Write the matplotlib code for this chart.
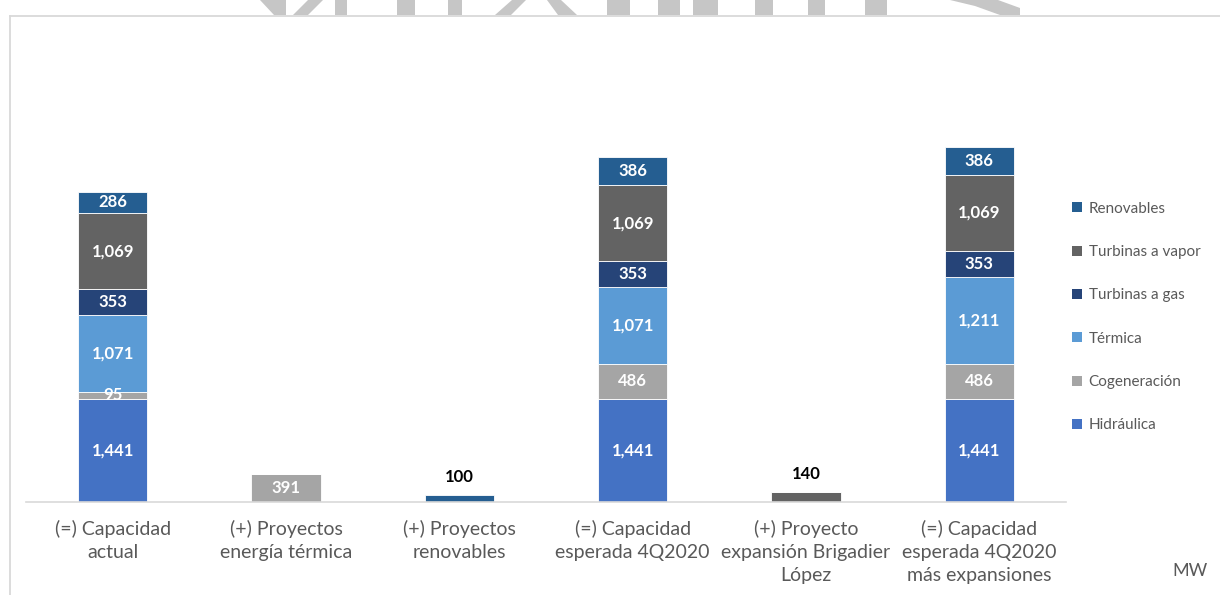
import numpy as np
from matplotlib import pyplot as plt
from matplotlib.patches import Polygon, Patch
from matplotlib.lines import Line2D

W, H = 1220, 595

categories = ["(=) Capacidad\nactual",
              "(+) Proyectos\nenergía térmica",
              "(+) Proyectos\nrenovables",
              "(=) Capacidad\nesperada 4Q2020",
              "(+) Proyecto\nexpansión Brigadier\nLópez",
              "(=) Capacidad\nesperada 4Q2020\nmás expansiones"]

# stacked from the bottom up, MW
hidraulica = [1441, 0, 0, 1441, 0, 1441]
cogeneracion = [95, 391, 0, 486, 0, 486]
termica = [1071, 0, 0, 1071, 0, 1211]
turbinas_gas = [353, 0, 0, 353, 0, 353]
turbinas_vapor = [1069, 0, 0, 1069, 140, 1069]
renovables = [286, 0, 100, 386, 0, 386]

series_names = ["Hidráulica", "Cogeneración", "Térmica", "Turbinas a gas",
                "Turbinas a vapor", "Renovables"]
series_colors = ["#4472c4", "#a5a5a5", "#5b9bd5", "#264478", "#636363", "#255e91"]

# single-bar steps get their label on top in black
outside_labels = [2, 4]

TEXT_GREY = "#595959"
FONT = "Lato"


def px(x, y):
    return x / W, 1 - y / H


def draw_background(fig):
    # tops of the big grey letters peeking out above the chart box
    shapes = [
        [(260, 0), (286, 0), (286, 15), (274, 15)],
        [(308, 0), (323, 0), (308, 15), (293, 15)],
        [(335, 0), (347, 0), (347, 15), (335, 15)],
        [(397, 0), (415, 0), (415, 15), (397, 15)],
        [(448, 0), (462, 0), (462, 15), (448, 15)],
        [(512, 0), (526, 0), (511, 15), (495, 15)],
        [(547, 0), (561, 0), (577, 15), (558, 15)],
        [(607, 0), (630, 0), (630, 15), (607, 15)],
        [(658, 0), (680, 0), (680, 15), (658, 15)],
        [(693, 0), (718, 0), (718, 15), (693, 15)],
        [(755, 0), (773, 0), (773, 15), (755, 15)],
        [(808, 0), (825, 0), (825, 15), (808, 15)],
        [(865, 0), (887, 0), (887, 15), (865, 15)],
        [(950, 0), (998, 0), (1020, 8), (1020, 15), (1000, 15), (975, 6)],
    ]
    for s in shapes:
        fig.patches.append(Polygon([px(x, y) for x, y in s], closed=True,
                                   transform=fig.transFigure, facecolor="#c6c6c6",
                                   edgecolor="none", zorder=0))
    frame = dict(transform=fig.transFigure, color="#d9d9d9", lw=1.3, zorder=1)
    x0, y0 = px(10, 15.5)
    fig.lines.append(Line2D([x0, 1], [y0, y0], **frame))
    fig.lines.append(Line2D([x0, x0], [0, y0], **frame))


def plot_capacity():
    fig = plt.figure(figsize=(W / 100, H / 100), dpi=100)
    draw_background(fig)

    left, bottom = px(26, 502)
    right, top = px(1066, 40)
    ax = fig.add_axes([left, bottom, right - left, top - bottom])
    ax.patch.set_alpha(0)

    data = [hidraulica, cogeneracion, termica, turbinas_gas, turbinas_vapor, renovables]
    x = np.arange(len(categories))
    base = np.zeros(len(categories))
    for values, name, color in zip(data, series_names, series_colors):
        values = np.array(values, dtype=float)
        ax.bar(x, values, bottom=base, width=0.4, color=color, edgecolor="white",
               linewidth=0.6, label=name, zorder=2)
        for i, v in enumerate(values):
            if v == 0:
                continue
            if i in outside_labels:
                ax.annotate(f"{v:,.0f}", (x[i], base[i] + v), xytext=(0, 7),
                            textcoords="offset points", ha="center", va="bottom",
                            fontsize=12, fontweight="bold", color="black", family=FONT)
            else:
                ax.text(x[i], base[i] + v / 2, f"{v:,.0f}", ha="center", va="center",
                        fontsize=12, fontweight="bold", color="white", family=FONT,
                        zorder=3)
        base += values

    ax.set_xlim(-0.5, len(categories) - 0.5)
    ax.set_ylim(0, 462 / 0.0718)
    ax.set_xticks(x)
    ax.set_xticklabels(categories, fontsize=14, color=TEXT_GREY, family=FONT,
                       linespacing=1.42)
    ax.tick_params(axis="x", length=0, pad=13)
    ax.set_yticks([])
    for side in ["top", "right", "left"]:
        ax.spines[side].set_visible(False)
    ax.spines["bottom"].set_color("#d9d9d9")
    ax.spines["bottom"].set_linewidth(1.2)

    handles = [Patch(facecolor=c, edgecolor="none") for c in series_colors][::-1]
    fig.legend(handles, series_names[::-1], loc="upper left",
               bbox_to_anchor=px(1058, 188), frameon=False,
               prop={"family": FONT, "size": 11}, labelcolor=TEXT_GREY,
               handlelength=0.65, handleheight=0.65, handletextpad=0.45,
               labelspacing=1.92)

    fig.text(*px(1190, 571), "MW", ha="center", va="center", fontsize=13,
             color=TEXT_GREY, family=FONT)

    fig.savefig("out.png", dpi=100, facecolor="white")


if __name__ == "__main__":
    plot_capacity()
